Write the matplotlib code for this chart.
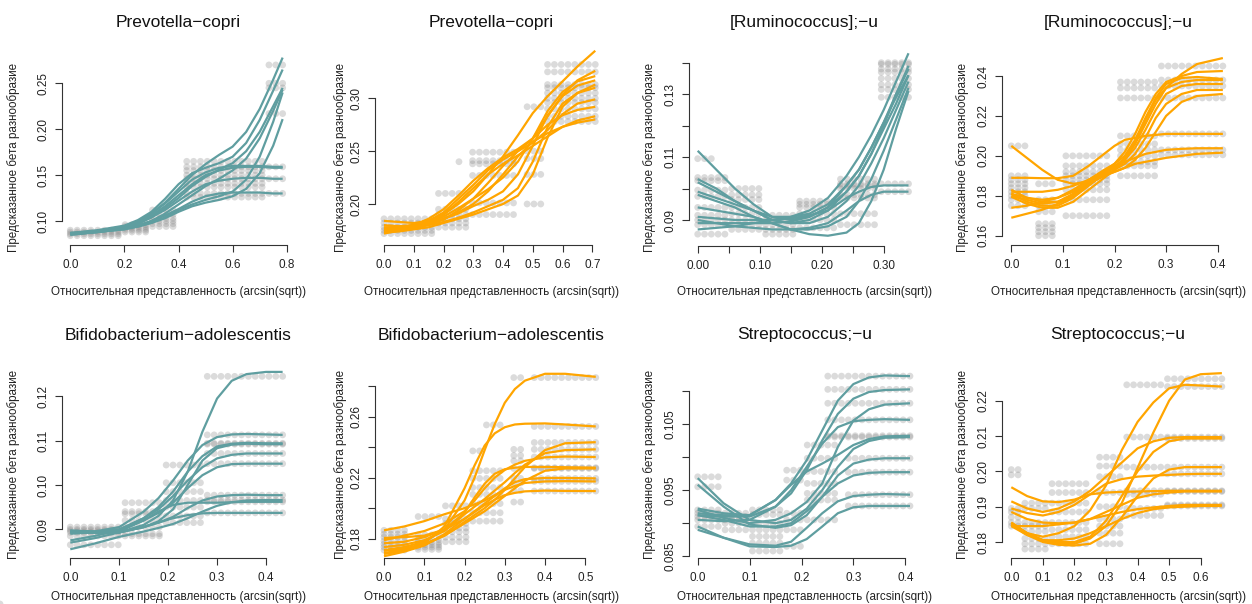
import numpy as np
import matplotlib
matplotlib.use("Agg")
import matplotlib.pyplot as plt

plt.rcParams['font.family'] = ['Liberation Sans', 'DejaVu Sans']

TEAL = '#5F9EA0'
ORANGE = '#FFA500'

TITLES = ['Prevotella−copri', 'Prevotella−copri', '[Ruminococcus];−u', '[Ruminococcus];−u',
          'Bifidobacterium−adolescentis', 'Bifidobacterium−adolescentis',
          'Streptococcus;−u', 'Streptococcus;−u']
XLABEL = 'Относительная представленность (arcsin(sqrt))'
YLABEL = 'Предсказанное бета разнообразие'

# ---- panel 1 ----
P1_X = [0.0, 0.1, 0.2, 0.25, 0.3, 0.35, 0.4, 0.45, 0.5, 0.55, 0.6, 0.65, 0.7, 0.75, 0.785]
P1_CURVES = [
    [0.086, 0.089, 0.094, 0.099, 0.108, 0.120, 0.135, 0.150, 0.162, 0.172, 0.181, 0.197, 0.222, 0.254, 0.278],
    [0.087, 0.090, 0.095, 0.101, 0.110, 0.124, 0.140, 0.152, 0.158, 0.163, 0.170, 0.185, 0.210, 0.242, 0.265],
    [0.086, 0.089, 0.093, 0.097, 0.104, 0.114, 0.125, 0.138, 0.148, 0.156, 0.163, 0.176, 0.197, 0.225, 0.245],
    [0.085, 0.088, 0.092, 0.095, 0.100, 0.108, 0.118, 0.128, 0.138, 0.146, 0.155, 0.168, 0.190, 0.220, 0.243],
    [0.085, 0.088, 0.091, 0.094, 0.098, 0.104, 0.112, 0.118, 0.123, 0.127, 0.132, 0.145, 0.170, 0.208, 0.240],
    [0.086, 0.088, 0.091, 0.094, 0.098, 0.103, 0.110, 0.116, 0.120, 0.123, 0.127, 0.135, 0.152, 0.182, 0.211],
    [0.086, 0.089, 0.094, 0.099, 0.108, 0.119, 0.132, 0.145, 0.153, 0.158, 0.160, 0.160, 0.160, 0.159, 0.159],
    [0.087, 0.089, 0.094, 0.099, 0.106, 0.116, 0.128, 0.140, 0.150, 0.155, 0.158, 0.159, 0.159, 0.158, 0.158],
    [0.086, 0.089, 0.093, 0.097, 0.104, 0.112, 0.122, 0.132, 0.140, 0.144, 0.146, 0.147, 0.147, 0.146, 0.146],
    [0.086, 0.088, 0.092, 0.095, 0.100, 0.106, 0.113, 0.121, 0.127, 0.130, 0.131, 0.131, 0.131, 0.130, 0.130],
]
P1_DOTS = [
    (0.0, 0.18, [0.084, 0.086, 0.088, 0.090]),
    (0.2, 0.28, [0.088, 0.090, 0.092, 0.094, 0.096]),
    (0.3, 0.38, [0.094, 0.097, 0.100, 0.103, 0.107, 0.112]),
    (0.43, 0.71, [0.126, 0.130, 0.137, 0.141, 0.146, 0.150, 0.155, 0.159, 0.165]),
    (0.72, 0.79, [0.130, 0.146, 0.159, 0.217, 0.245, 0.250, 0.270]),
]
P1_XTICKS = [0.0, 0.2, 0.4, 0.6, 0.8]
P1_XLABELS = ['0.0', '0.2', '0.4', '0.6', '0.8']
P1_YTICKS = [0.10, 0.15, 0.20, 0.25]
P1_YLABELS = ['0.10', '0.15', '0.20', '0.25']

# ---- panel 2 ----
P2_X = [0.0, 0.05, 0.1, 0.15, 0.2, 0.25, 0.3, 0.35, 0.4, 0.45, 0.5, 0.55, 0.6, 0.65, 0.71]
P2_CURVES = [
    [0.172, 0.175, 0.178, 0.183, 0.190, 0.200, 0.212, 0.228, 0.245, 0.265, 0.286, 0.302, 0.316, 0.330, 0.345],
    [0.176, 0.177, 0.180, 0.186, 0.195, 0.208, 0.222, 0.234, 0.244, 0.252, 0.262, 0.283, 0.303, 0.317, 0.326],
    [0.175, 0.176, 0.179, 0.183, 0.188, 0.196, 0.205, 0.214, 0.225, 0.240, 0.262, 0.288, 0.306, 0.316, 0.321],
    [0.178, 0.178, 0.180, 0.182, 0.186, 0.191, 0.198, 0.204, 0.212, 0.228, 0.255, 0.284, 0.302, 0.312, 0.317],
    [0.174, 0.175, 0.177, 0.180, 0.183, 0.187, 0.192, 0.198, 0.204, 0.215, 0.240, 0.273, 0.295, 0.305, 0.310],
    [0.180, 0.179, 0.180, 0.184, 0.192, 0.205, 0.218, 0.232, 0.242, 0.250, 0.258, 0.270, 0.285, 0.295, 0.299],
    [0.184, 0.183, 0.182, 0.184, 0.190, 0.202, 0.215, 0.228, 0.238, 0.246, 0.255, 0.264, 0.273, 0.279, 0.283],
    [0.177, 0.178, 0.179, 0.181, 0.186, 0.192, 0.200, 0.212, 0.228, 0.245, 0.259, 0.267, 0.273, 0.277, 0.280],
    [0.173, 0.174, 0.176, 0.178, 0.182, 0.186, 0.190, 0.195, 0.200, 0.208, 0.228, 0.263, 0.292, 0.305, 0.313],
    [0.176, 0.177, 0.178, 0.181, 0.185, 0.194, 0.205, 0.220, 0.236, 0.250, 0.262, 0.275, 0.284, 0.289, 0.292],
]
P2_DOTS = [
    (0.0, 0.17, [0.172, 0.175, 0.178, 0.182, 0.186]),
    (0.18, 0.28, [0.178, 0.182, 0.186, 0.190, 0.195, 0.210]),
    (0.23, 0.26, [0.240]),
    (0.29, 0.44, [0.190, 0.201, 0.227, 0.238, 0.241, 0.249]),
    (0.46, 0.53, [0.200, 0.228, 0.243, 0.250, 0.292]),
    (0.54, 0.71, [0.278, 0.283, 0.290, 0.296, 0.300, 0.305, 0.310, 0.313, 0.325, 0.332]),
]
P2_XTICKS = [0.0, 0.1, 0.2, 0.3, 0.4, 0.5, 0.6, 0.7]
P2_XLABELS = ['0.0', '0.1', '0.2', '0.3', '0.4', '0.5', '0.6', '0.7']
P2_YTICKS = [0.20, 0.25, 0.30]
P2_YLABELS = ['0.20', '0.25', '0.30']

# ---- panel 3 ----
P3_X = [0.0, 0.03, 0.06, 0.09, 0.12, 0.15, 0.18, 0.21, 0.24, 0.26, 0.28, 0.30, 0.32, 0.34]
P3_CURVES = [
    [0.112, 0.106, 0.100, 0.095, 0.091, 0.090, 0.091, 0.094, 0.101, 0.106, 0.113, 0.121, 0.130, 0.139],
    [0.103, 0.100, 0.096, 0.093, 0.091, 0.091, 0.093, 0.097, 0.104, 0.110, 0.117, 0.125, 0.134, 0.143],
    [0.102, 0.099, 0.096, 0.093, 0.090, 0.089, 0.090, 0.093, 0.099, 0.104, 0.111, 0.119, 0.127, 0.136],
    [0.099, 0.097, 0.095, 0.093, 0.090, 0.089, 0.089, 0.091, 0.096, 0.101, 0.108, 0.116, 0.125, 0.134],
    [0.098, 0.096, 0.094, 0.091, 0.089, 0.087, 0.087, 0.088, 0.091, 0.096, 0.103, 0.112, 0.122, 0.132],
    [0.094, 0.093, 0.092, 0.091, 0.089, 0.087, 0.0855, 0.085, 0.086, 0.089, 0.096, 0.106, 0.119, 0.131],
    [0.091, 0.0905, 0.090, 0.090, 0.090, 0.0905, 0.0915, 0.093, 0.097, 0.099, 0.1005, 0.101, 0.101, 0.101],
    [0.090, 0.089, 0.088, 0.0875, 0.087, 0.087, 0.0875, 0.089, 0.093, 0.096, 0.098, 0.099, 0.099, 0.099],
    [0.089, 0.089, 0.089, 0.089, 0.089, 0.0895, 0.091, 0.094, 0.099, 0.104, 0.111, 0.120, 0.130, 0.138],
    [0.087, 0.0875, 0.088, 0.089, 0.090, 0.091, 0.092, 0.095, 0.101, 0.106, 0.113, 0.121, 0.129, 0.136],
]
P3_DOTS = [
    (0.0, 0.045, [0.0855, 0.0885, 0.0900, 0.0915, 0.0940, 0.0975, 0.0995, 0.1025, 0.1035]),
    (0.0, 0.03, [0.1095]),
    (0.05, 0.10, [0.0870, 0.0885, 0.0900, 0.0920, 0.0940, 0.0965, 0.0980, 0.1000]),
    (0.10, 0.16, [0.0855, 0.0870, 0.0885, 0.0900, 0.0915]),
    (0.16, 0.22, [0.0875, 0.0900, 0.0920, 0.0940, 0.0950, 0.0960]),
    (0.22, 0.29, [0.0885, 0.0920, 0.0970, 0.0980, 0.1000, 0.1010, 0.1015, 0.1030]),
    (0.29, 0.34, [0.0990, 0.1015, 0.1290, 0.1315, 0.1330, 0.1350, 0.1370, 0.1380, 0.1395, 0.1400]),
]
P3_XTICKS = [0.0, 0.05, 0.10, 0.15, 0.20, 0.25, 0.30]
P3_XLABELS = ['0.00', '', '0.10', '', '0.20', '', '0.30']
P3_YTICKS = [0.09, 0.10, 0.11, 0.12, 0.13, 0.14]
P3_YLABELS = ['0.09', '', '0.11', '', '0.13', '']

# ---- panel 4 ----
P4_X = [0.0, 0.03, 0.06, 0.09, 0.12, 0.15, 0.18, 0.2, 0.22, 0.24, 0.26, 0.28, 0.30, 0.33, 0.36, 0.41]
P4_CURVES = [
    [0.205, 0.199, 0.193, 0.188, 0.186, 0.187, 0.190, 0.193, 0.198, 0.206, 0.216, 0.226, 0.234, 0.241, 0.246, 0.249],
    [0.189, 0.189, 0.1888, 0.1888, 0.190, 0.195, 0.201, 0.205, 0.208, 0.209, 0.210, 0.2105, 0.211, 0.211, 0.211, 0.211],
    [0.183, 0.179, 0.177, 0.177, 0.180, 0.186, 0.192, 0.196, 0.202, 0.211, 0.222, 0.231, 0.237, 0.240, 0.242, 0.2425],
    [0.181, 0.177, 0.175, 0.175, 0.179, 0.185, 0.191, 0.194, 0.199, 0.207, 0.218, 0.228, 0.234, 0.237, 0.238, 0.238],
    [0.180, 0.178, 0.176, 0.177, 0.181, 0.187, 0.192, 0.195, 0.198, 0.204, 0.213, 0.223, 0.231, 0.235, 0.236, 0.236],
    [0.1795, 0.176, 0.174, 0.174, 0.177, 0.183, 0.189, 0.193, 0.196, 0.201, 0.209, 0.219, 0.226, 0.231, 0.233, 0.233],
    [0.182, 0.182, 0.182, 0.183, 0.185, 0.188, 0.190, 0.192, 0.194, 0.198, 0.204, 0.212, 0.220, 0.227, 0.230, 0.231],
    [0.174, 0.175, 0.177, 0.179, 0.183, 0.188, 0.192, 0.194, 0.197, 0.199, 0.201, 0.202, 0.203, 0.2035, 0.2038, 0.2038],
    [0.169, 0.171, 0.173, 0.176, 0.180, 0.186, 0.190, 0.192, 0.194, 0.196, 0.197, 0.198, 0.199, 0.200, 0.201, 0.2016],
    [0.181, 0.179, 0.178, 0.179, 0.182, 0.188, 0.193, 0.196, 0.200, 0.208, 0.219, 0.229, 0.236, 0.239, 0.2395, 0.2385],
]
P4_DOTS = [
    (0.0, 0.03, [0.175, 0.178, 0.180, 0.182, 0.184, 0.186, 0.188, 0.190, 0.205]),
    (0.04, 0.09, [0.160, 0.162, 0.164, 0.166, 0.172, 0.175, 0.178, 0.186]),
    (0.10, 0.19, [0.170, 0.178, 0.183, 0.186, 0.188, 0.190, 0.192, 0.195, 0.200]),
    (0.20, 0.28, [0.190, 0.195, 0.197, 0.200, 0.203, 0.206, 0.210, 0.229, 0.234, 0.237]),
    (0.29, 0.41, [0.2005, 0.203, 0.211, 0.229, 0.235, 0.238, 0.245]),
]
P4_XTICKS = [0.0, 0.1, 0.2, 0.3, 0.4]
P4_XLABELS = ['0.0', '0.1', '0.2', '0.3', '0.4']
P4_YTICKS = [0.16, 0.18, 0.20, 0.22, 0.24]
P4_YLABELS = ['0.16', '0.18', '0.20', '0.22', '0.24']

# ---- panel 5 ----
P5_X = [0.0, 0.05, 0.1, 0.15, 0.18, 0.21, 0.24, 0.27, 0.30, 0.33, 0.36, 0.40, 0.434]
P5_CURVES = [
    [0.0895, 0.0893, 0.0893, 0.0910, 0.0930, 0.0965, 0.1030, 0.1120, 0.1195, 0.1235, 0.1250, 0.1255, 0.1255],
    [0.0893, 0.0895, 0.0905, 0.0940, 0.0970, 0.1010, 0.1055, 0.1090, 0.1108, 0.1114, 0.1115, 0.1114, 0.1113],
    [0.0897, 0.0895, 0.0900, 0.0925, 0.0950, 0.0985, 0.1030, 0.1065, 0.1087, 0.1093, 0.1095, 0.1094, 0.1094],
    [0.0895, 0.0892, 0.0893, 0.0905, 0.0918, 0.0945, 0.1000, 0.1055, 0.1083, 0.1091, 0.1093, 0.1092, 0.1092],
    [0.0890, 0.0893, 0.0898, 0.0925, 0.0945, 0.0975, 0.1010, 0.1040, 0.1060, 0.1068, 0.1071, 0.1071, 0.1071],
    [0.0875, 0.0885, 0.0898, 0.0920, 0.0937, 0.0960, 0.0993, 0.1022, 0.1040, 0.1047, 0.1048, 0.1048, 0.1048],
    [0.0897, 0.0895, 0.0893, 0.0905, 0.0915, 0.0928, 0.0948, 0.0965, 0.0974, 0.0977, 0.0978, 0.0977, 0.0977],
    [0.0893, 0.0893, 0.0895, 0.0920, 0.0940, 0.0955, 0.0960, 0.0960, 0.0960, 0.0961, 0.0962, 0.0962, 0.0962],
    [0.0855, 0.0868, 0.0883, 0.0895, 0.0903, 0.0912, 0.0925, 0.0940, 0.0953, 0.0961, 0.0965, 0.0966, 0.0966],
    [0.0870, 0.0880, 0.0893, 0.0905, 0.0915, 0.0925, 0.0932, 0.0936, 0.0937, 0.0937, 0.0937, 0.0937, 0.0937],
]
P5_DOTS = [
    (0.0, 0.10, [0.0865, 0.0885, 0.0893, 0.0897, 0.0900, 0.0905]),
    (0.10, 0.19, [0.0885, 0.0890, 0.0905, 0.0920, 0.0935, 0.0940, 0.0960]),
    (0.19, 0.27, [0.0915, 0.0930, 0.0950, 0.0965, 0.0985, 0.1005, 0.1045]),
    (0.27, 0.44, [0.0937, 0.0962, 0.0966, 0.0977, 0.1048, 0.1071, 0.1092, 0.1094, 0.1113, 0.1245]),
]
P5_XTICKS = [0.0, 0.1, 0.2, 0.3, 0.4]
P5_XLABELS = ['0.0', '0.1', '0.2', '0.3', '0.4']
P5_YTICKS = [0.09, 0.10, 0.11, 0.12]
P5_YLABELS = ['0.09', '0.10', '0.11', '0.12']

# ---- panel 6 ----
P6_X = [0.0, 0.05, 0.1, 0.15, 0.2, 0.225, 0.25, 0.275, 0.3, 0.325, 0.35, 0.4, 0.45, 0.526]
P6_CURVES = [
    [0.1725, 0.1745, 0.1780, 0.1860, 0.2050, 0.2200, 0.2380, 0.2550, 0.2690, 0.2780, 0.2835, 0.2880, 0.2880, 0.2860],
    [0.1705, 0.1730, 0.1770, 0.1880, 0.2130, 0.2280, 0.2410, 0.2490, 0.2530, 0.2548, 0.2553, 0.2555, 0.2548, 0.2535],
    [0.1720, 0.1735, 0.1765, 0.1820, 0.1910, 0.1955, 0.2000, 0.2055, 0.2120, 0.2195, 0.2270, 0.2380, 0.2425, 0.2432],
    [0.1745, 0.1760, 0.1790, 0.1850, 0.1960, 0.2010, 0.2060, 0.2115, 0.2170, 0.2230, 0.2285, 0.2360, 0.2380, 0.2385],
    [0.1790, 0.1820, 0.1850, 0.1900, 0.1980, 0.2050, 0.2130, 0.2200, 0.2250, 0.2285, 0.2310, 0.2333, 0.2338, 0.2335],
    [0.1805, 0.1810, 0.1820, 0.1860, 0.1970, 0.2070, 0.2160, 0.2225, 0.2255, 0.2265, 0.2270, 0.2270, 0.2268, 0.2265],
    [0.1700, 0.1720, 0.1760, 0.1820, 0.1900, 0.1940, 0.1980, 0.2030, 0.2080, 0.2130, 0.2180, 0.2245, 0.2260, 0.2260],
    [0.1685, 0.1715, 0.1755, 0.1830, 0.1930, 0.1980, 0.2030, 0.2080, 0.2130, 0.2170, 0.2190, 0.2198, 0.2198, 0.2195],
    [0.1855, 0.1880, 0.1915, 0.1960, 0.2000, 0.2025, 0.2050, 0.2085, 0.2120, 0.2145, 0.2165, 0.2175, 0.2177, 0.2175],
    [0.1770, 0.1780, 0.1810, 0.1860, 0.1930, 0.1975, 0.2020, 0.2055, 0.2085, 0.2100, 0.2110, 0.2115, 0.2113, 0.2112],
]
P6_DOTS = [
    (0.0, 0.06, [0.1725, 0.1745, 0.1765, 0.1785, 0.1810, 0.1830, 0.1855]),
    (0.07, 0.14, [0.1730, 0.1745, 0.1760, 0.1775, 0.1795, 0.1825, 0.1945]),
    (0.07, 0.08, [0.1980]),
    (0.15, 0.21, [0.1780, 0.1810, 0.1845, 0.1870, 0.1900, 0.1930, 0.2015]),
    (0.21, 0.30, [0.1915, 0.1970, 0.2030, 0.2090, 0.2135, 0.2195, 0.2245]),
    (0.21, 0.24, [0.2375]),
    (0.25, 0.30, [0.2545]),
    (0.31, 0.35, [0.2040, 0.2115, 0.2165, 0.2195, 0.2260, 0.2310, 0.2345, 0.2385, 0.2855]),
    (0.36, 0.53, [0.2112, 0.2175, 0.2195, 0.2260, 0.2265, 0.2335, 0.2385, 0.2430, 0.2535, 0.2855]),
]
P6_XTICKS = [0.0, 0.1, 0.2, 0.3, 0.4, 0.5]
P6_XLABELS = ['0.0', '0.1', '0.2', '0.3', '0.4', '0.5']
P6_YTICKS = [0.18, 0.20, 0.22, 0.24, 0.26, 0.28]
P6_YLABELS = ['0.18', '', '0.22', '', '0.26', '']

# ---- panel 7 ----
P7_X = [0.0, 0.05, 0.1, 0.15, 0.18, 0.21, 0.24, 0.27, 0.30, 0.33, 0.36, 0.409]
P7_CURVES = [
    [0.0915, 0.0912, 0.0912, 0.0935, 0.0960, 0.0995, 0.1040, 0.1085, 0.1110, 0.1120, 0.1123, 0.1122],
    [0.0912, 0.0910, 0.0910, 0.0925, 0.0945, 0.0980, 0.1025, 0.1065, 0.1088, 0.1098, 0.1101, 0.1102],
    [0.0920, 0.0908, 0.0900, 0.0905, 0.0915, 0.0932, 0.0960, 0.1015, 0.1055, 0.1072, 0.1079, 0.1081],
    [0.0905, 0.0903, 0.0905, 0.0925, 0.0950, 0.0985, 0.1020, 0.1045, 0.1054, 0.1056, 0.1057, 0.1056],
    [0.0922, 0.0915, 0.0912, 0.0935, 0.0958, 0.0978, 0.0990, 0.1003, 0.1018, 0.1027, 0.1031, 0.1032],
    [0.0968, 0.0930, 0.0905, 0.0900, 0.0905, 0.0922, 0.0950, 0.0985, 0.1012, 0.1024, 0.1029, 0.1030],
    [0.0958, 0.0925, 0.0898, 0.0893, 0.0897, 0.0912, 0.0940, 0.0972, 0.0990, 0.0996, 0.0998, 0.0998],
    [0.0912, 0.0905, 0.0895, 0.0895, 0.0900, 0.0918, 0.0940, 0.0960, 0.0972, 0.0976, 0.0977, 0.0977],
    [0.0890, 0.0878, 0.0868, 0.0866, 0.0872, 0.0893, 0.0915, 0.0933, 0.0941, 0.0943, 0.0944, 0.0943],
    [0.0895, 0.0878, 0.0865, 0.0864, 0.0866, 0.0876, 0.0895, 0.0915, 0.0924, 0.0926, 0.0926, 0.0926],
]
P7_DOTS = [
    (0.0, 0.05, [0.0895, 0.0905, 0.0910, 0.0915, 0.0920, 0.0955, 0.0970]),
    (0.05, 0.10, [0.0890, 0.0900, 0.0905, 0.0910, 0.0915]),
    (0.10, 0.16, [0.0858, 0.0870, 0.0880, 0.0890, 0.0900, 0.0913, 0.0920]),
    (0.16, 0.20, [0.0865, 0.0890, 0.0905, 0.0915, 0.0965, 0.0980]),
    (0.20, 0.27, [0.0905, 0.0935, 0.0945, 0.0960, 0.0978, 0.0998, 0.1018]),
    (0.24, 0.41, [0.1030, 0.1032, 0.1056, 0.1081, 0.1102, 0.1122]),
    (0.28, 0.41, [0.0926, 0.0943, 0.0977, 0.0998]),
]
P7_XTICKS = [0.0, 0.1, 0.2, 0.3, 0.4]
P7_XLABELS = ['0.0', '0.1', '0.2', '0.3', '0.4']
P7_YTICKS = [0.085, 0.090, 0.095, 0.100, 0.105, 0.110]
P7_YLABELS = ['0.085', '', '0.095', '', '0.105', '']

# ---- panel 8 ----
P8_X = [0.0, 0.05, 0.1, 0.15, 0.2, 0.25, 0.3, 0.35, 0.4, 0.45, 0.5, 0.55, 0.6, 0.667]
P8_CURVES = [
    [0.1845, 0.1820, 0.1805, 0.1795, 0.1795, 0.1810, 0.1845, 0.1910, 0.2010, 0.2110, 0.2200, 0.2260, 0.2275, 0.2278],
    [0.1850, 0.1825, 0.1815, 0.1825, 0.1845, 0.1890, 0.1960, 0.2060, 0.2140, 0.2195, 0.2235, 0.2245, 0.2243, 0.2240],
    [0.1915, 0.1895, 0.1885, 0.1895, 0.1915, 0.1945, 0.1985, 0.2025, 0.2065, 0.2085, 0.2095, 0.2097, 0.2097, 0.2097],
    [0.1855, 0.1825, 0.1805, 0.1800, 0.1800, 0.1815, 0.1860, 0.1930, 0.2000, 0.2055, 0.2085, 0.2093, 0.2093, 0.2093],
    [0.1850, 0.1820, 0.1800, 0.1792, 0.1790, 0.1795, 0.1820, 0.1870, 0.1930, 0.1980, 0.2005, 0.2012, 0.2012, 0.2012],
    [0.1895, 0.1882, 0.1875, 0.1885, 0.1905, 0.1935, 0.1965, 0.1978, 0.1985, 0.1988, 0.1990, 0.1992, 0.1993, 0.1993],
    [0.1955, 0.1930, 0.1915, 0.1913, 0.1920, 0.1935, 0.1940, 0.1942, 0.1943, 0.1944, 0.1945, 0.1945, 0.1945, 0.1945],
    [0.1885, 0.1865, 0.1855, 0.1853, 0.1855, 0.1865, 0.1885, 0.1905, 0.1925, 0.1935, 0.1940, 0.1943, 0.1943, 0.1943],
    [0.1845, 0.1845, 0.1845, 0.1850, 0.1855, 0.1865, 0.1875, 0.1885, 0.1893, 0.1898, 0.1902, 0.1905, 0.1905, 0.1905],
    [0.1855, 0.1825, 0.1805, 0.1805, 0.1810, 0.1825, 0.1845, 0.1865, 0.1882, 0.1893, 0.1898, 0.1900, 0.1902, 0.1902],
]
P8_DOTS = [
    (0.0, 0.04, [0.1845, 0.1855, 0.1870, 0.1885, 0.1895, 0.1990, 0.2005]),
    (0.04, 0.12, [0.1780, 0.1795, 0.1810, 0.1830, 0.1845, 0.1855, 0.1895, 0.1910]),
    (0.12, 0.25, [0.1795, 0.1815, 0.1835, 0.1855, 0.1885, 0.1910, 0.1940, 0.1965]),
    (0.26, 0.35, [0.1795, 0.1825, 0.1845, 0.1865, 0.1900, 0.1940, 0.1985, 0.2015, 0.2040]),
    (0.36, 0.48, [0.1875, 0.1895, 0.1935, 0.1945, 0.2012, 0.2097, 0.2245]),
    (0.48, 0.67, [0.1902, 0.1905, 0.1943, 0.1945, 0.1993, 0.2012, 0.2093, 0.2097, 0.2240, 0.2262]),
]
P8_XTICKS = [0.0, 0.1, 0.2, 0.3, 0.4, 0.5, 0.6]
P8_XLABELS = ['0.0', '0.1', '0.2', '0.3', '0.4', '0.5', '0.6']
P8_YTICKS = [0.18, 0.19, 0.20, 0.21, 0.22]
P8_YLABELS = ['0.18', '0.19', '0.20', '0.21', '0.22']

PANELS = [
    (P1_X, P1_CURVES, P1_DOTS, P1_XTICKS, P1_XLABELS, P1_YTICKS, P1_YLABELS, TEAL),
    (P2_X, P2_CURVES, P2_DOTS, P2_XTICKS, P2_XLABELS, P2_YTICKS, P2_YLABELS, ORANGE),
    (P3_X, P3_CURVES, P3_DOTS, P3_XTICKS, P3_XLABELS, P3_YTICKS, P3_YLABELS, TEAL),
    (P4_X, P4_CURVES, P4_DOTS, P4_XTICKS, P4_XLABELS, P4_YTICKS, P4_YLABELS, ORANGE),
    (P5_X, P5_CURVES, P5_DOTS, P5_XTICKS, P5_XLABELS, P5_YTICKS, P5_YLABELS, TEAL),
    (P6_X, P6_CURVES, P6_DOTS, P6_XTICKS, P6_XLABELS, P6_YTICKS, P6_YLABELS, ORANGE),
    (P7_X, P7_CURVES, P7_DOTS, P7_XTICKS, P7_XLABELS, P7_YTICKS, P7_YLABELS, TEAL),
    (P8_X, P8_CURVES, P8_DOTS, P8_XTICKS, P8_XLABELS, P8_YTICKS, P8_YLABELS, ORANGE),
]

# layout in pixels: axes box (left, bottom, right, top) and pixel of first/last tick
W, H = 1252, 604
BOXES = [
    (62.3, 245, 294, 40), (375.3, 245, 607, 40), (688.7, 246, 920, 40), (1002.3, 245, 1234, 40),
    (62.3, 558, 294, 355), (375.3, 558, 607, 355), (688.7, 558, 920, 355), (1002.3, 558, 1234, 355),
]
XCAL = [(70.3, 286.7), (384, 592.3), (697.7, 883.7), (1011.3, 1217.7),
        (70.3, 266), (384, 585.3), (697.7, 905.3), (1011.3, 1200.7)]
YCAL = [(221, 83.3), (204, 98.3), (220, 62.7), (235.7, 76),
        (529.3, 396.3), (538.7, 386), (556.3, 390.7), (542, 400.7)]
YLAB_X = [14, 341, 650, 963]
TITLE_Y = [22, 335]
XLAB_Y = [292, 597]
YLAB_Y = [157, 464]


def px_to_val(p, p0, p1, v0, v1):
    return v0 + (p - p0) * (v1 - v0) / (p1 - p0)


fig = plt.figure(figsize=(W / 100, H / 100), dpi=100)

for i, (xs, curves, dots, xt, xl, yt, yl, color) in enumerate(PANELS):
    L, B, R, T = BOXES[i]
    ax = fig.add_axes([L / W, 1 - B / H, (R - L) / W, (B - T) / H])
    ax.patch.set_alpha(0)

    # grey sample points sit on an even grid of 32 positions along x
    grid = np.linspace(0, xs[-1], 32)
    for lo, hi, levels in dots:
        gx = grid[(grid >= lo - 1e-9) & (grid <= hi + 1e-9)]
        for lev in levels:
            ax.scatter(gx, np.full(len(gx), lev), s=24, color='#808080', alpha=0.28,
                       edgecolors='none', zorder=2, clip_on=False)

    for ys in curves:
        ax.plot(xs, ys, color=color, lw=1.6, solid_joinstyle='round',
                solid_capstyle='butt', zorder=3, clip_on=False)

    x0p, x1p = XCAL[i]
    ax.set_xlim(px_to_val(L, x0p, x1p, xt[0], xt[-1]), px_to_val(R, x0p, x1p, xt[0], xt[-1]))
    y0p, y1p = YCAL[i]
    ax.set_ylim(px_to_val(B, y0p, y1p, yt[0], yt[-1]), px_to_val(T, y0p, y1p, yt[0], yt[-1]))

    ax.set_xticks(xt)
    ax.set_xticklabels(xl)
    ax.set_yticks(yt)
    ax.set_yticklabels(yl, rotation=90, va='center')
    for s in ('top', 'right'):
        ax.spines[s].set_visible(False)
    for s in ('left', 'bottom'):
        ax.spines[s].set_color('#333333')
        ax.spines[s].set_linewidth(0.8)
    ax.spines['bottom'].set_bounds(xt[0], xt[-1])
    ax.spines['left'].set_bounds(yt[0], yt[-1])
    ax.tick_params(axis='x', length=5, width=0.8, color='#333333', labelsize=8.5,
                   pad=5, labelcolor='#222222')
    ax.tick_params(axis='y', length=5, width=0.8, color='#333333', labelsize=8.5,
                   pad=4, labelcolor='#222222')

    row = i // 4
    cx = (L + R) / 2
    fig.text(cx / W, 1 - TITLE_Y[row] / H, TITLES[i], ha='center', va='center',
             fontsize=12.5, color='#111111')
    fig.text(cx / W, 1 - XLAB_Y[row] / H, XLABEL, ha='center', va='center',
             fontsize=8.4, color='#222222')
    fig.text(YLAB_X[i % 4] / W, 1 - YLAB_Y[row] / H, YLABEL, ha='center', va='center',
             rotation=90, fontsize=8.4, color='#222222')

fig.savefig('out.png', dpi=100)
